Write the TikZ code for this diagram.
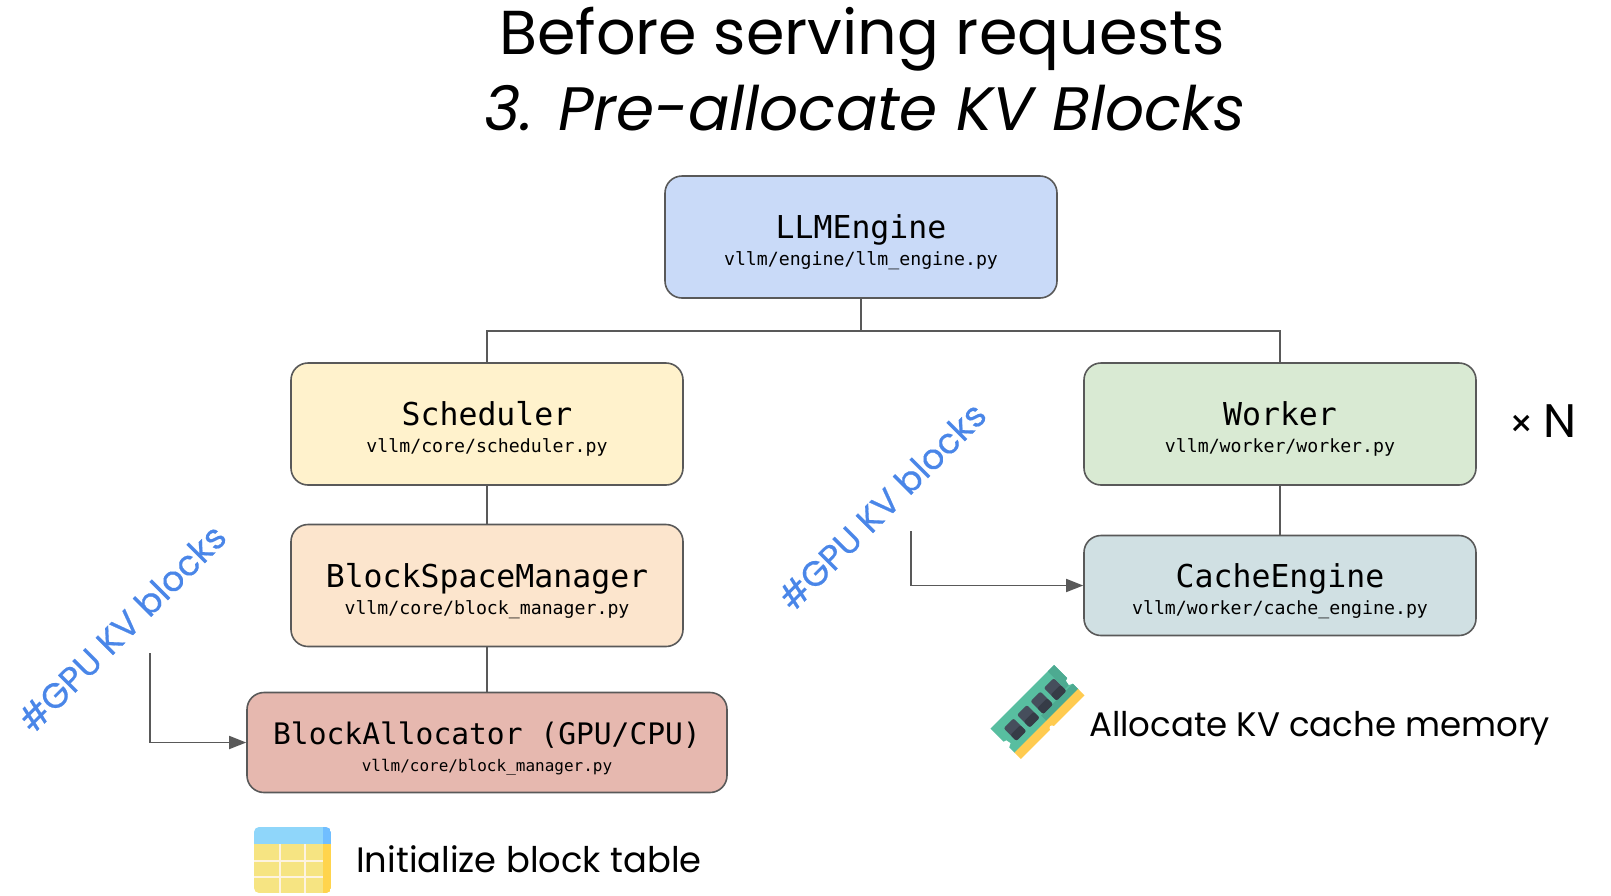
\documentclass[tikz,border=0pt]{standalone}
\usepackage{fontspec}
\setmainfont{Poppins}
\newfontfamily\codefont{DejaVu Sans Mono}
\newfontfamily\gpufont[FakeBold=0.5]{Poppins}
\usetikzlibrary{arrows.meta}
\definecolor{linecol}{HTML}{595959}
\definecolor{gpublue}{HTML}{4A86E8}
\definecolor{iconyellow}{HTML}{F6E482}
\definecolor{icongold}{HTML}{FFD44D}
\definecolor{iconblue}{HTML}{8FD6FA}
\definecolor{icondeep}{HTML}{70BEFF}
\definecolor{icongrid}{HTML}{FDF3E0}
\definecolor{ramgreen}{HTML}{58BEA0}
\definecolor{ramdeep}{HTML}{4DAA91}
\definecolor{ramgold}{HTML}{FFCB50}
\definecolor{ramchip}{HTML}{464E5C}
\definecolor{ramchipd}{HTML}{363C47}
\tikzset{
  box/.style={draw=linecol,line width=1.6pt,rounded corners=17pt,align=center,inner sep=0pt,text=black},
  big/.style={box,minimum width=392pt,minimum height=122pt},
  low/.style={box,minimum width=392pt,minimum height=100pt},
  conn/.style={draw=linecol,line width=1.7pt},
  arrowconn/.style={conn,-{Triangle[length=17pt,width=13pt]}},
  gpu/.style={text=gpublue,font=\gpufont\fontsize{35}{40}\selectfont,rotate=45,inner sep=0pt},
  note/.style={anchor=west,inner sep=0pt,text=black},
  titleline/.style={inner sep=0pt,text=black}
}
\newcommand{\boxtext}[3][31.5]{{\rule[-10pt]{0pt}{45pt}\codefont\fontsize{#1}{36}\selectfont #2}\\{\rule[-5pt]{0pt}{21pt}\codefont\fontsize{18.2}{24}\selectfont #3}}
\begin{document}
\begin{tikzpicture}[x=1pt,y=-1pt]
\useasboundingbox (0,0) rectangle (1611,895);
\node[titleline,font=\fontsize{62}{70}\selectfont] (t1) at (862,39) {Before serving requests};
\node[titleline,font=\fontsize{61.3}{70}\selectfont\itshape] (t2) at (865,108) {3. Pre-allocate KV Blocks};

\node[big,fill={rgb,255:red,201;green,218;blue,248}] (llm) at (861,237) {\boxtext{LLMEngine}{vllm/engine/llm\_engine.py}};
\node[big,fill={rgb,255:red,255;green,242;blue,204}] (sch) at (487,424) {\boxtext{Scheduler}{vllm/core/scheduler.py}};
\node[big,fill={rgb,255:red,252;green,229;blue,205}] (bsm) at (487,585.5) {\boxtext{BlockSpaceManager}{vllm/core/block\_manager.py}};
\node[low,minimum width=480pt,fill={rgb,255:red,230;green,184;blue,175}] (ba) at (487,742.5) {\boxtext[29.6]{BlockAllocator (GPU/CPU)}{\fontsize{16}{24}\selectfont vllm/core/block\_manager.py}};
\node[big,fill={rgb,255:red,217;green,234;blue,211}] (wrk) at (1280,424) {\boxtext{Worker}{vllm/worker/worker.py}};
\node[low,fill={rgb,255:red,208;green,224;blue,227}] (cch) at (1280,585.5) {\boxtext{CacheEngine}{vllm/worker/cache\_engine.py}};

\coordinate (fork) at (861,331);
\draw[conn] (llm.south) -- (fork);
\draw[conn] (fork) -| (sch.north);
\draw[conn] (fork) -| (wrk.north);
\draw[conn] (sch) -- (bsm);
\draw[conn] (bsm) -- (ba);
\draw[conn] (wrk) -- (cch);

\coordinate (src1) at (150,653);
\coordinate (src2) at (911,531);
\draw[arrowconn] (src1) |- (ba.west);
\draw[arrowconn] (src2) |- (cch.west);

\node[gpu] (g1) at (122,628) {\#GPU KV blocks};
\node[gpu] (g2) at (882,506) {\#GPU KV blocks};

\node[inner sep=0pt,text=black] (times) at (1543,421) {\fontsize{38}{40}\selectfont × \fontsize{47}{48}\selectfont N};
\node[note,font=\fontsize{34}{40}\selectfont] (n1) at (1089,728) {Allocate KV cache memory};
\node[note,font=\fontsize{35.3}{40}\selectfont] (n2) at (356,859) {Initialize block table};

% table icon
\begin{scope}
  \clip[rounded corners=5pt] (254,827) rectangle (331,893);
  \fill[iconyellow] (254,844) rectangle (331,893);
  \fill[icongold] (323,844) rectangle (331,893);
  \fill[iconblue] (254,827) rectangle (324,844);
  \fill[icondeep] (323,827) rectangle (331,844);
  \fill[icongrid] (279,844) rectangle (281,893);
  \fill[icongrid] (304,844) rectangle (306,893);
  \fill[icongrid] (254,859.5) rectangle (323,861.5);
  \fill[icongrid] (254,876) rectangle (323,878);
\end{scope}

% memory icon
\begin{scope}[shift={(1037.5,712)},rotate=45]
  \fill[ramgreen] (-45,-21.5) -- (45,-21.5) -- (45,-3) -- (42,-2) -- (41,3) -- (45,5) -- (45,13)
     -- (-45,13) -- (-45,5) -- (-41,3) -- (-42,-2) -- (-45,-3) -- cycle;
  \fill[ramdeep] (0,5) -- (45,5) -- (45,13) -- (0,13) -- cycle;
  \fill[ramdeep] (36,-21.5) -- (45,-21.5) -- (45,-3) -- (42,-2) -- (41,3) -- (36,3) -- cycle;
  \fill[ramgold] (-45,12.5) rectangle (45,21.5);
  \fill[white] (-1,21.5) circle (2.5pt);
  \foreach \cx in {-28.4,-9.5,9.5,28.4}{
    \fill[rounded corners=2pt,ramchip] (\cx-7,-12.5) rectangle (\cx+7,5.5);
    \fill[rounded corners=2pt,ramchipd] (\cx-7,-3) rectangle (\cx+7,5.5);
  }
\end{scope}
\end{tikzpicture}
\end{document}
